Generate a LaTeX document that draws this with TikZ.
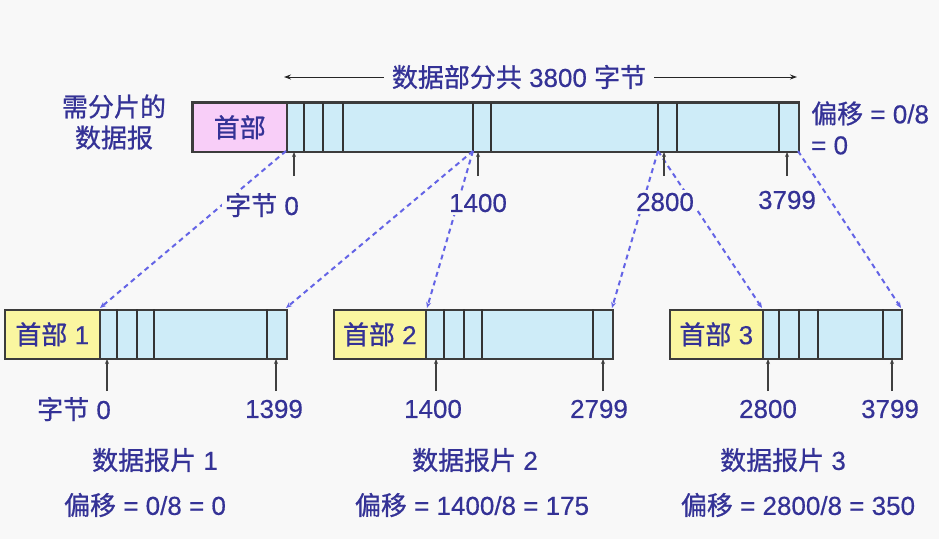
\documentclass[tikz,border=0pt]{standalone}
\usepackage{fontspec}
\setmainfont{Liberation Sans}[FakeBold=0.4]
\newfontfamily\cjk{Noto Sans CJK SC}[FakeBold=0.8]
\usetikzlibrary{arrows.meta}

\definecolor{bg}{RGB}{248,248,248}
\definecolor{ink}{RGB}{52,50,150}
\definecolor{edge}{RGB}{60,60,60}
\definecolor{datafill}{RGB}{206,236,248}
\definecolor{pinkhdr}{RGB}{248,206,248}
\definecolor{yellowhdr}{RGB}{250,246,160}
\definecolor{dashblue}{RGB}{100,100,230}

\begin{document}
\begin{tikzpicture}[x=1pt,y=-1pt,
  txt/.style={text=ink, font=\fontsize{26}{31}\selectfont, inner sep=3pt},
  lbl/.style={txt, fill=bg},
  bar/.style={draw=edge, line width=1.5pt, fill=datafill, minimum height=49pt,
              inner sep=0pt, anchor=north west},
  hdr/.style={bar, txt, inner sep=0pt},
  divider/.style={draw=black!80, line width=1.5pt},
  tick/.style={draw=black!75, line width=1.2pt, -{Stealth[length=5pt,width=4pt]}},
  split/.style={draw=dashblue, line width=2pt, dash pattern=on 5pt off 4pt,
                -{Stealth[length=6pt,width=5pt]}},
  span/.style={draw=black!85, line width=1pt,
               {Stealth[length=7pt,width=5pt]}-{Stealth[length=7pt,width=5pt]}}
]
\fill[bg] (0,0) rectangle (939,539);
\useasboundingbox (0,0) rectangle (939,539);

% ---------------- original datagram ----------------
\node[bar, minimum width=606pt] (top) at (192,102) {};
\node[hdr, fill=pinkhdr, minimum width=94pt] (tophdr) at (192,102) {\cjk 首部};
\foreach \x in {304,323,343,473,491,658,677,779}
  \draw[divider] (\x,102) -- (\x,151);
\draw[draw=edge, line width=1.5pt] (top.north west) rectangle (top.south east);

\node[txt, align=center] (orig) at (114,122) {\cjk 需分片的\\\cjk 数据报};
\node[txt, align=left, anchor=west] (origoff) at (808,128) {{\cjk 偏移} = 0/8\\= 0};

% length of the data part
\coordinate (spanL) at (284,77);
\coordinate (spanR) at (797,77);
\draw[span] (spanL) -- (spanR);
\node[lbl, inner xsep=8pt] (spantxt) at (519,77) {{\cjk 数据部分共} 3800 {\cjk 字节}};

% ---------------- fragments ----------------
\node[bar, minimum width=282pt] (f1) at (4,309) {};
\node[hdr, fill=yellowhdr, minimum width=95pt] (h1) at (4,309) {{\cjk 首部} 1};
\foreach \x in {117,137,154,267}
  \draw[divider] (\x,309) -- (\x,358);

\node[bar, minimum width=279pt] (f2) at (333,309) {};
\node[hdr, fill=yellowhdr, minimum width=92pt] (h2) at (333,309) {{\cjk 首部} 2};
\foreach \x in {444,464,482,593}
  \draw[divider] (\x,309) -- (\x,358);

\node[bar, minimum width=232pt] (f3) at (669,309) {};
\node[hdr, fill=yellowhdr, minimum width=93pt] (h3) at (669,309) {{\cjk 首部} 3};
\foreach \x in {779,799,818,883}
  \draw[divider] (\x,309) -- (\x,358);

% ---------------- split connectors ----------------
\coordinate (s0) at (286,151);
\coordinate (s1) at (473,151);
\coordinate (s2) at (658,151);
\coordinate (s3) at (798,151);
\coordinate (d1a) at (100,308);
\coordinate (d1b) at (286,308);
\coordinate (d2a) at (427,308);
\coordinate (d2b) at (612,308);
\coordinate (d3a) at (762,308);
\coordinate (d3b) at (901,308);
\draw[split] (s0) -- (d1a);
\draw[split] (s1) -- (d1b);
\draw[split] (s1) -- (d2a);
\draw[split] (s2) -- (d2b);
\draw[split] (s2) -- (d3a);
\draw[split] (s3) -- (d3b);

% ---------------- byte positions, original ----------------
\foreach \n/\x in {p0/294,p1/478,p2/664,p3/787}{
  \coordinate (\n) at (\x,152);
  \coordinate (\n b) at (\x,176);
  \draw[tick] (\n b) -- (\n);
}
\node[lbl] (l0) at (262,205) {{\cjk 字节} 0};
\node[lbl] (l1) at (478,203) {1400};
\node[lbl] (l2) at (665,202) {2800};
\node[lbl] (l3) at (787,200) {3799};

% ---------------- byte positions, fragments ----------------
\foreach \n/\x in {q1/107,q2/276,q3/436,q4/603,q5/768,q6/892}{
  \coordinate (\n) at (\x,359);
  \coordinate (\n b) at (\x,391);
  \draw[tick] (\n b) -- (\n);
}
\node[lbl] (m1) at (74,409) {{\cjk 字节} 0};
\node[lbl] (m2) at (274,409) {1399};
\node[lbl] (m3) at (433,409) {1400};
\node[lbl] (m4) at (599,409) {2799};
\node[lbl] (m5) at (768,409) {2800};
\node[lbl] (m6) at (890,409) {3799};

% ---------------- fragment captions ----------------
\node[txt] (c1) at (155,460) {{\cjk 数据报片} 1};
\node[txt] (c2) at (475,460) {{\cjk 数据报片} 2};
\node[txt] (c3) at (783,460) {{\cjk 数据报片} 3};
\node[txt] (o1) at (145,505) {{\cjk 偏移} = 0/8 = 0};
\node[txt] (o2) at (472,505) {{\cjk 偏移} = 1400/8 = 175};
\node[txt] (o3) at (798,505) {{\cjk 偏移} = 2800/8 = 350};
\end{tikzpicture}
\end{document}
